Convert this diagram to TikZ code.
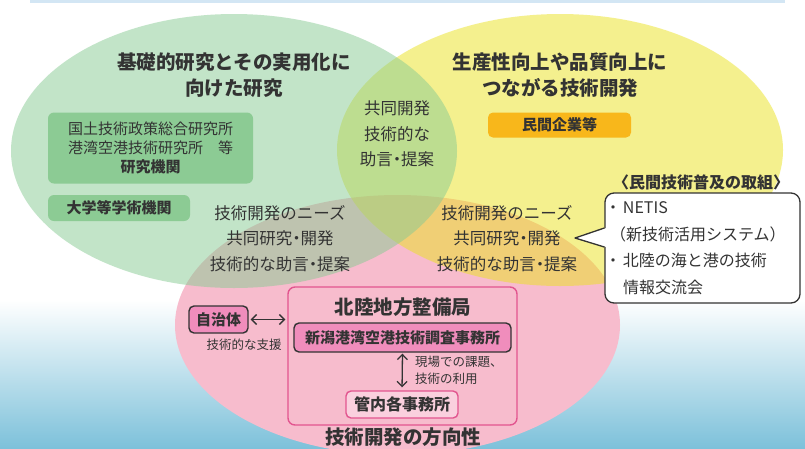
\documentclass[tikz,border=0pt]{standalone}
\usepackage{fontspec}
\setmainfont{Noto Sans CJK JP}
\usetikzlibrary{arrows.meta}

\definecolor{inkc}{HTML}{333333}
\definecolor{greenc}{HTML}{87CB93}
\definecolor{yellowc}{HTML}{EBE31F}
\definecolor{pinkc}{HTML}{F7BCCD}
\definecolor{boxgreen}{HTML}{8CCB94}
\definecolor{boxorange}{HTML}{F8B71B}
\definecolor{boxpink}{HTML}{F08DBC}
\definecolor{palepink}{HTML}{FAD0DE}
\definecolor{framepink}{HTML}{E2558F}
\definecolor{seamid}{HTML}{D5EBF3}
\definecolor{seabot}{HTML}{7DC1DA}
\definecolor{topline}{HTML}{D3E6F4}

\newcommand{\dotsep}{\kern-.25em・\kern-.25em}
\newcommand{\bulletmark}{\makebox[13pt][l]{\kern-5pt・}}
\newcommand{\bulletgap}{\makebox[13pt]{}}

\begin{document}
\begin{tikzpicture}[x=1pt,y=-1pt,
  every node/.style={text=inkc,inner sep=0pt},
  ttl/.style={font=\bfseries\fontsize{19.5}{26}\selectfont,align=center},
  mid/.style={font=\fontsize{16.5}{25.5}\selectfont,align=center},
  greenbox/.style={fill=boxgreen,rounded corners=6pt,align=center},
  pinkbox/.style={fill=boxpink,draw=inkc,line width=1.4pt,rounded corners=5pt,
    font=\bfseries\fontsize{15}{18}\selectfont},
  note/.style={font=\fontsize{12.5}{17}\selectfont},
  callout/.style={draw=inkc,fill=white,line width=1.3pt,rounded corners=9pt,
    minimum width=195pt,minimum height=110pt,text width=185pt,align=left,
    font=\fontsize{16}{26.5}\selectfont},
  dblarr/.style={{Straight Barb[length=5pt,width=10pt]}-{Straight Barb[length=5pt,width=10pt]},
    draw=inkc,line width=1.3pt}]
\useasboundingbox (0,0) rectangle (805,448);
\clip (0,0) rectangle (805,448);

% background
\fill[white] (0,0) rectangle (805,448);
\shade[top color=white,middle color=seamid,bottom color=seabot] (0,300) rectangle (805,448);
\fill[topline] (30,0) rectangle (785,2.5);

% the three circles
\fill[pinkc] (397.5,325) ellipse [x radius=222.5,y radius=130];
\fill[yellowc,opacity=.5] (560,150) ellipse [x radius=223,y radius=136];
\fill[greenc,opacity=.5] (234,151) ellipse [x radius=223,y radius=137];

% green circle
\node[ttl] (research) at (234,75) {基礎的研究とその実用化に\\向けた研究};
\node[greenbox,minimum width=205pt,minimum height=71pt,font=\fontsize{15}{19}\selectfont]
  (inst) at (150.5,148) {国土技術政策総合研究所\\港湾空港技術研究所　等\\\textbf{研究機関}};
\node[greenbox,minimum width=142pt,minimum height=26pt,font=\bfseries\fontsize{15}{18}\selectfont]
  (univ) at (119,208) {大学等学術機関};

% yellow circle
\node[ttl] (product) at (560,75) {生産性向上や品質向上に\\つながる技術開発};
\node[fill=boxorange,rounded corners=5pt,minimum width=143pt,minimum height=25pt,
  font=\bfseries\fontsize{15}{18}\selectfont] (firms) at (559.5,125) {民間企業等};

% overlaps
\node[mid] (gy) at (397,134) {共同開発\\技術的な\\助言\dotsep 提案};
\node[mid] (gp) at (280,238.5) {技術開発のニーズ\\共同研究\dotsep 開発\\技術的な助言\dotsep 提案};
\node[mid] (yp) at (507,238.5) {技術開発のニーズ\\共同研究\dotsep 開発\\技術的な助言\dotsep 提案};

% spread of private technology
\node[font=\bfseries\fontsize{16}{20}\selectfont] (spread) at (701,182) {〈民間技術普及の取組〉};
\node[callout] (netis) at (702.5,248)
  {\bulletmark NETIS\\（新技術活用システム）\\\bulletmark 北陸の海と港の技術\\\bulletgap 情報交流会};
\coordinate (tip) at (575,238);
\fill[white] ([xshift=2pt,yshift=20pt]netis.west) -- (tip) -- ([xshift=2pt,yshift=1pt]netis.west) -- cycle;
\draw[inkc,line width=1.3pt,line join=round] ([yshift=20pt]netis.west) -- (tip) -- ([yshift=1pt]netis.west);

% pink circle
\node[draw=framepink,line width=1.4pt,rounded corners=7pt,minimum width=229pt,minimum height=138pt]
  (kyoku) at (402.5,356) {};
\node[ttl] (kyokuname) at (403,307) {北陸地方整備局};
\node[pinkbox,minimum width=217pt,minimum height=29pt] (niigata) at (402.5,337.5) {新潟港湾空港技術調査事務所};
\node[pinkbox,minimum width=59pt,minimum height=27pt] (jichitai) at (218.5,319.5) {自治体};
\node[fill=palepink,draw=framepink,line width=1.4pt,rounded corners=5pt,minimum width=112pt,
  minimum height=27pt,font=\bfseries\fontsize{16}{18}\selectfont] (kannai) at (402,404.5) {管内各事務所};
\node[note] (support) at (244,345) {技術的な支援};
\node[note,anchor=west,align=left] (issues) at (415,370) {現場での課題、\\技術の利用};
\node[ttl] (direction) at (403,437) {技術開発の方向性};

\draw[dblarr,shorten <=2pt,shorten >=2pt] (jichitai.east) -- (jichitai.east -| kyoku.west);
\draw[dblarr,shorten <=1pt,shorten >=3pt] (niigata.south) -- (kannai.north);
\end{tikzpicture}
\end{document}
